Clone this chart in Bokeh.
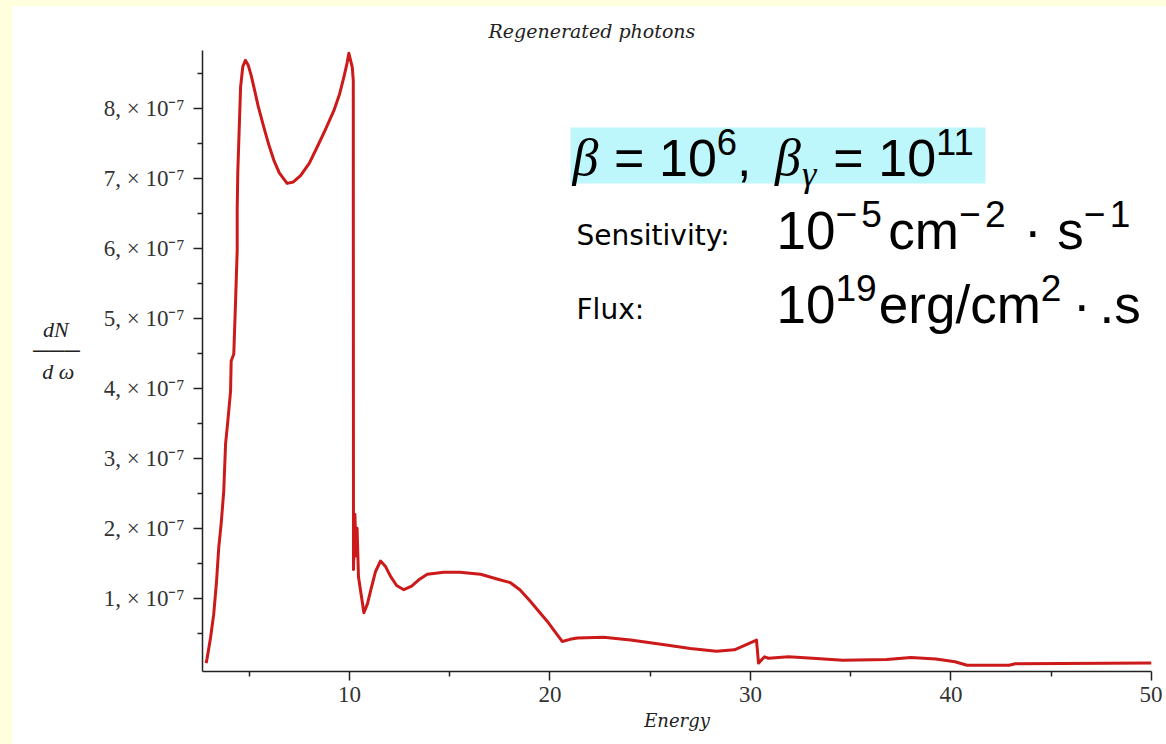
from bokeh.plotting import figure
from bokeh.models import Range1d, FixedTicker, Label, BoxAnnotation, GlobalInlineStyleSheet
from bokeh.embed import file_html
from bokeh.resources import INLINE

# ---------------- data ----------------
energy = [2.85, 2.90, 3.07, 3.23, 3.37, 3.48, 3.60, 3.73, 3.82, 3.92, 4.07, 4.10, 4.23, 4.32,
          4.40, 4.40, 4.43, 4.57, 4.68, 4.81, 4.95, 5.10, 5.23, 5.45, 5.73, 6.00, 6.23, 6.50,
          6.89, 7.20, 7.56, 8.00, 8.39, 8.80, 9.22, 9.50, 9.72, 9.88, 9.97,
          10.14, 10.19, 10.20, 10.27, 10.33, 10.38, 10.45, 10.72, 10.90, 11.05, 11.30, 11.55,
          11.80, 12.05, 12.35, 12.71, 13.10, 13.50, 13.88, 14.70, 15.50, 16.54, 17.40, 18.03,
          18.50, 19.03, 19.50, 19.86, 20.30, 20.61, 21.00, 21.36, 22.68, 24.02, 25.80,
          27.00, 28.30, 29.20, 30.30, 30.40, 30.70, 30.90, 31.90, 33.10, 34.60, 36.80, 38.00,
          39.25, 40.20, 40.80, 42.90, 43.20, 50.00]
# dN/dw in units of 1e-7
dn_dw_e7 = [0.07, 0.14, 0.43, 0.77, 1.24, 1.72, 2.06, 2.53, 3.20, 3.49, 3.96, 4.39, 4.49, 5.25,
            5.97, 6.54, 7.09, 8.31, 8.60, 8.69, 8.62, 8.47, 8.31, 8.03, 7.73, 7.46, 7.26, 7.08,
            6.93, 6.95, 7.04, 7.22, 7.45, 7.70, 7.97, 8.20, 8.45, 8.65, 8.79,
            8.59, 8.40, 1.41, 2.20, 1.60, 2.00, 1.30, 0.79, 0.92, 1.10, 1.38, 1.53,
            1.45, 1.31, 1.18, 1.12, 1.17, 1.27, 1.34, 1.37, 1.37, 1.34, 1.27, 1.22,
            1.12, 0.95, 0.79, 0.67, 0.50, 0.38, 0.41, 0.43, 0.44, 0.40, 0.33,
            0.28, 0.24, 0.26, 0.40, 0.07, 0.16, 0.14, 0.16, 0.14, 0.11, 0.12, 0.15,
            0.13, 0.09, 0.04, 0.04, 0.06, 0.07]

x_major_ticks = [10, 20, 30, 40, 50]
x_minor_ticks = [5, 15, 25, 35, 45]
y_major_ticks = [1, 2, 3, 4, 5, 6, 7, 8]
y_minor_ticks = [0.5, 1.5, 2.5, 3.5, 4.5, 5.5, 6.5, 7.5, 8.5]
y_tick_labels = ["1, \u00d7 10\u207b\u2077", "2, \u00d7 10\u207b\u2077", "3, \u00d7 10\u207b\u2077",
                 "4, \u00d7 10\u207b\u2077", "5, \u00d7 10\u207b\u2077", "6, \u00d7 10\u207b\u2077",
                 "7, \u00d7 10\u207b\u2077", "8, \u00d7 10\u207b\u2077"]

title_text = "Regenerated photons"
x_label = "Energy"
y_label = "dN\u00a0\u00a0\n\u2500\u2500\u2500\nd \u03c9\u00a0\n\u00a0"
sens_label = "Sensitivity:"
flux_label = "Flux:"
# formula pieces: (text, role)
param_pieces = [("\u03b2", "gi"), (0.28, "gap"), ("=", "b"), (0.28, "gap"), ("10", "b"), ("6", "sup"),
                (",", "b"), (0.45, "gap"), ("\u03b2", "gi"), ("\u03b3", "gsub"), (0.28, "gap"),
                ("=", "b"), (0.28, "gap"), ("10", "b"), ("11", "sup")]
sens_pieces = [("10", "b"), ("\u2212", "sup"), (0.08, "gap"), ("5", "sup"), (0.12, "gap"),
               ("cm", "b"), ("\u2212", "sup"), (0.08, "gap"), ("2", "sup"),
               (0.35, "gap"), ("\u00b7", "b"), (0.35, "gap"), ("s", "b"),
               ("\u2212", "sup"), (0.08, "gap"), ("1", "sup")]
flux_pieces = [("10", "b"), ("19", "sup"), (0.04, "gap"), ("erg/cm", "b"), ("2", "sup"),
               (0.22, "gap"), ("\u00b7", "b"), (0.22, "gap"), (".s", "b")]

# ---------------- layout ----------------
X0, X1 = 2.67, 50.0
Y0, Y1 = -0.05, 8.83
FL, FR, FT, FB = 202, 1151, 50, 671   # frame edges in page pixels
W, H = 1162, 740
BASE_CORR = 0.38                       # alphabetic-baseline correction (em)


def dx(px):
    return X0 + (px - FL) * (X1 - X0) / (FR - FL)


def dy(py):
    return Y0 + (FB - py) * (Y1 - Y0) / (FB - FT)


p = figure(width=W, height=H, x_range=Range1d(X0, X1), y_range=Range1d(Y0, Y1),
           output_backend="svg", toolbar_location=None,
           min_border_left=FL, min_border_right=W - FR,
           min_border_top=FT, min_border_bottom=H - FB)
p.border_fill_color = None
p.background_fill_color = "white"
p.outline_line_color = None
p.grid.visible = False
p.stylesheets = [GlobalInlineStyleSheet(css=(
    "html { background: linear-gradient(to bottom, #FFFFDD 6px, rgba(255,255,255,0) 6px),"
    " linear-gradient(to right, #FFFFDD 12px, #FFFFFF 12px); }"))]

p.title.text = title_text
p.title.text_font = "DejaVu Serif"
p.title.text_font_style = "italic"
p.title.text_font_size = "19px"
p.title.text_color = "#222222"
p.title.align = "left"
p.title.offset = 488 - FL
p.title.standoff = 17

axis_col = "#222222"
for ax in (p.xaxis[0], p.yaxis[0]):
    ax.axis_line_color = axis_col
    ax.axis_line_width = 1.5
    ax.major_tick_line_color = axis_col
    ax.major_tick_line_width = 1.5
    ax.minor_tick_line_color = axis_col
    ax.minor_tick_line_width = 1.5
    ax.major_tick_in = 0
    ax.major_tick_out = 9
    ax.minor_tick_in = 0
    ax.minor_tick_out = 5
    ax.major_label_text_font = "Liberation Serif"
    ax.major_label_text_font_size = "23px"
    ax.major_label_text_color = "#333333"
    ax.axis_label_text_font = "DejaVu Serif"
    ax.axis_label_text_font_style = "italic"
    ax.axis_label_text_font_size = "18px"
    ax.axis_label_text_color = "#222222"

p.xaxis.ticker = FixedTicker(ticks=x_major_ticks, minor_ticks=x_minor_ticks)
p.yaxis.ticker = FixedTicker(ticks=y_major_ticks, minor_ticks=y_minor_ticks)
p.yaxis.major_label_overrides = {t: lab for t, lab in zip(y_major_ticks, y_tick_labels)}
p.xaxis.major_label_standoff = 6
p.yaxis.major_label_standoff = 9
p.xaxis.axis_label = x_label
p.xaxis.axis_label_standoff = 5
p.yaxis.axis_label = y_label
p.yaxis.axis_label_orientation = "horizontal"
p.yaxis.axis_label_text_font = "Liberation Serif"
p.yaxis.axis_label_text_font_size = "22px"
p.yaxis.axis_label_text_line_height = 0.85
p.yaxis.axis_label_standoff = 21

p.line(energy, dn_dw_e7, line_color="#cc1a1a", line_width=3, line_join="round")

# annotation block
p.add_layout(BoxAnnotation(left=dx(570), right=dx(985), top=dy(127), bottom=dy(183),
                           fill_color="#BDF6FB", fill_alpha=1.0, line_color=None))

ADV = {"0": .556, "1": .556, "2": .556, "5": .556, "6": .556, "9": .556, "c": .5, "m": .833,
       "s": .5, "e": .556, "r": .333, "g": .556, "/": .278, ".": .278, "\u2212": .584,
       "=": .584, ",": .278, " ": .278, "\u00b7": .278, "\u03b2": .52, "\u03b3": .46}


def place_math(pieces, x_start, baseline, B):
    x = x_start
    for text, role in pieces:
        if role == "gap":
            x += text * B
            continue
        small = role in ("sup", "gsub")
        size = 0.7 * B if small else B
        shift = {"b": 0, "gi": 0, "sup": -0.42 * B, "gsub": 0.2 * B}[role]
        greek = role in ("gi", "gsub")
        p.add_layout(Label(x=dx(x), y=dy(baseline + shift - BASE_CORR * size), text=text,
                           text_font="Liberation Serif" if greek else "Liberation Sans",
                           text_font_style="italic" if greek else "normal",
                           text_font_size=f"{size:.1f}px", text_color="black",
                           text_align="left", text_baseline="alphabetic"))
        x += sum(ADV.get(ch, .55) for ch in text) * size


place_math(param_pieces, 572, 177, 52)
p.add_layout(Label(x=dx(576), y=dy(246 - BASE_CORR * 28), text=sens_label, text_font="DejaVu Sans",
                   text_font_size="28px", text_color="black",
                   text_align="left", text_baseline="alphabetic"))
place_math(sens_pieces, 776, 250, 53)
p.add_layout(Label(x=dx(576), y=dy(320 - BASE_CORR * 28), text=flux_label, text_font="DejaVu Sans",
                   text_font_size="28px", text_color="black",
                   text_align="left", text_baseline="alphabetic"))
place_math(flux_pieces, 776, 324, 53)

open("out.html", "w").write(file_html(p, INLINE))
